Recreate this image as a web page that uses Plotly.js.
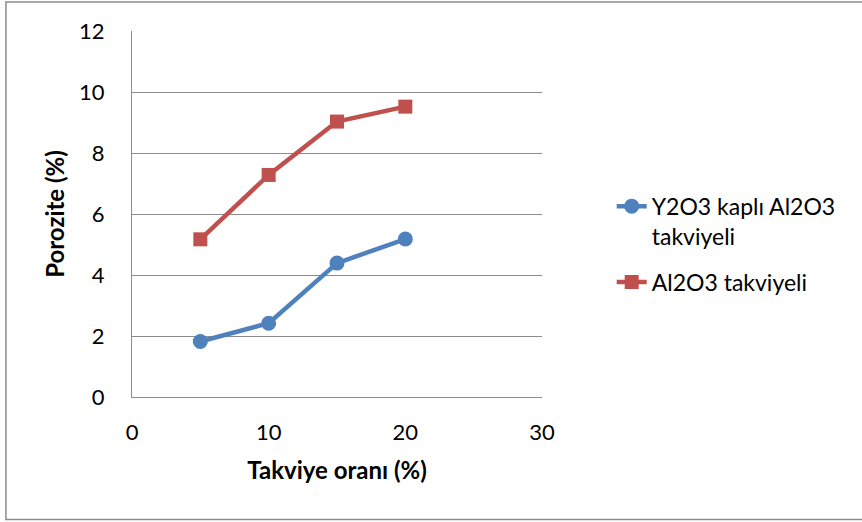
<!DOCTYPE html>
<html>
<head>
<meta charset="utf-8">
<script src="https://cdn.plot.ly/plotly-3.0.1.min.js"></script>
<style>
  html, body { margin: 0; padding: 0; background: #ffffff; }
  #chart { width: 862px; height: 522px; }
</style>
</head>
<body>
<div id="chart"></div>
<script>
// Reinforcement ratio (%) on the x axis
const takviyeOrani = [5, 10, 15, 20];
// Porosity (%) for each reinforcement type
const y2o3Kapli = [1.82, 2.42, 4.39, 5.18];
const al2o3 = [5.17, 7.28, 9.03, 9.52];
const seriesNames = ['Y2O3 kaplı Al2O3<br>takviyeli', 'Al2O3 takviyeli'];

const FONT = 'Lato, "Open Sans", sans-serif';
const GRID = '#8c8c8c';

const traces = [
  {
    x: takviyeOrani, y: y2o3Kapli, name: seriesNames[0],
    type: 'scatter', mode: 'lines+markers', legendgroup: 'a',
    line: { color: '#4F81BD', width: 4.5 },
    marker: { symbol: 'circle', size: 15, color: '#4F81BD' }
  },
  {
    x: takviyeOrani, y: al2o3, name: seriesNames[1],
    type: 'scatter', mode: 'lines+markers', legendgroup: 'b',
    line: { color: '#C0504D', width: 4.5 },
    marker: { symbol: 'square', size: 14, color: '#C0504D' }
  }
];

const layout = {
  width: 862, height: 522,
  margin: { l: 132, r: 320, t: 31, b: 125 },
  paper_bgcolor: '#ffffff', plot_bgcolor: '#ffffff',
  font: { family: FONT, size: 22, color: '#000000' },
  showlegend: true,
  legend: {
    x: 1.17, y: 0.58, xanchor: 'left', yanchor: 'top',
    valign: 'top', tracegroupgap: 13,
    font: { family: FONT, size: 23, color: '#000000' },
    bgcolor: 'rgba(0,0,0,0)'
  },
  xaxis: {
    range: [0, 30], dtick: 10, tick0: 0,
    showgrid: false, zeroline: false,
    showline: true, linecolor: GRID, linewidth: 1,
    ticks: '', ticklabelstandoff: 16,
    tickfont: { family: FONT, size: 22 },
    title: { text: '<b>Takviye oranı (%)</b>', font: { family: FONT, size: 24 }, standoff: 17 }
  },
  yaxis: {
    range: [0, 12], dtick: 2, tick0: 0,
    showgrid: true, gridcolor: GRID, gridwidth: 1,
    zeroline: false,
    showline: true, linecolor: GRID, linewidth: 1,
    ticks: '', ticklabelstandoff: 22,
    tickfont: { family: FONT, size: 22 },
    title: { text: '<b>Porozite (%)</b>', font: { family: FONT, size: 24 }, standoff: 7 }
  },
  shapes: [
    {
      type: 'rect', xref: 'paper', yref: 'paper',
      x0: -0.3075, x1: 1.784, y0: -0.335, y1: 1.079,
      line: { color: '#8c8c8c', width: 1.5 }, fillcolor: 'rgba(0,0,0,0)', layer: 'below'
    }
  ]
};

Plotly.newPlot('chart', traces, layout, { displayModeBar: false, staticPlot: true });
</script>
</body>
</html>
